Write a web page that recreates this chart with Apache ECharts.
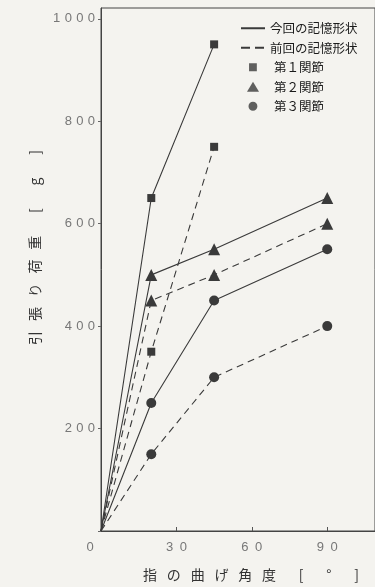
<!DOCTYPE html>
<html>
<head>
<meta charset="utf-8">
<script src="https://cdn.jsdelivr.net/npm/echarts@6/dist/echarts.min.js"></script>
<style>
html,body{margin:0;padding:0;background:#f4f3ef;}
#c{width:375px;height:587px;}
</style>
</head>
<body>
<div id="c"></div>
<script>
// ---- data ----
const anglesJ1 = [0, 20, 45];
const anglesJ23 = [0, 20, 45, 90];
const joint1Now = [0, 650, 950];
const joint1Prev = [0, 350, 750];
const joint2Now = [0, 500, 550, 650];
const joint2Prev = [0, 450, 500, 600];
const joint3Now = [0, 250, 450, 550];
const joint3Prev = [0, 150, 300, 400];
const xTicks = [0, 30, 60, 90];
const yTicks = [0, 200, 400, 600, 800, 1000];
const legendNow = '今回の記憶形状';
const legendPrev = '前回の記憶形状';
const jointNames = ['第１関節', '第２関節', '第３関節'];
const xName = '指の曲げ角度 [ ° ]';
const yName = '引張り荷重 [ g ]';

const ink = '#3a3a3a';
const symbols = ['rect', 'triangle', 'circle'];
const symSizes = [8, 12, 10];
const legendIcons = [
  'path://M0,0h0.1M1,1h7v7h-7zM9,9h0.1',
  'path://M6,0L12,10H0z',
  'path://M0,0h0.1M4.5,0.5a4,4 0 1,0 0.001,0zM9,9h0.1'
];

function pts(xs, ys) {
  return xs.map((x, i) => i === 0 ? {value: [x, ys[i]], symbol: 'none'} : [x, ys[i]]);
}
function spaced(s, sep) { return s.split('').join(sep); }

const series = [];
// legend-only series (no data)
series.push({name: legendNow, type: 'line', data: [], symbol: 'none', lineStyle: {color: ink, width: 1.3, type: 'solid'}, itemStyle: {color: ink}});
series.push({name: legendPrev, type: 'line', data: [], symbol: 'none', lineStyle: {color: ink, width: 1.3, type: [9, 5]}, itemStyle: {color: ink}});
jointNames.forEach((n, k) => {
  series.push({name: n, type: 'scatter', data: [], symbol: symbols[k], symbolSize: symSizes[k], itemStyle: {color: ink}});
});
const real = [
  [anglesJ1, joint1Now, 0, 'solid'], [anglesJ1, joint1Prev, 0, 'dash'],
  [anglesJ23, joint2Now, 1, 'solid'], [anglesJ23, joint2Prev, 1, 'dash'],
  [anglesJ23, joint3Now, 2, 'solid'], [anglesJ23, joint3Prev, 2, 'dash']
];
real.forEach(([xs, ys, k, t], i) => {
  series.push({
    name: 's' + i, type: 'line', data: pts(xs, ys),
    symbol: symbols[k], symbolSize: symSizes[k], showSymbol: true,
    lineStyle: {color: ink, width: 1.1, type: t === 'solid' ? 'solid' : [7, 5]},
    itemStyle: {color: ink}, z: 3, silent: true
  });
});

const hidden = {color: 'rgba(0,0,0,0)', borderColor: 'rgba(0,0,0,0)', borderWidth: 0};
const legendData = [
  {name: legendNow, itemStyle: hidden},
  {name: legendPrev, itemStyle: hidden}
].concat(jointNames.map((n, k) => ({name: n, icon: legendIcons[k], textStyle: {padding: [0, 0, 0, 4]}})));

const chart = echarts.init(document.getElementById('c'), null, {renderer: 'canvas'});
chart.setOption({
  backgroundColor: '#f4f3ef',
  animation: false,
  textStyle: {fontFamily: '"Liberation Sans", "Noto Sans CJK JP", sans-serif'},
  grid: {left: 101, right: -3, top: 8, bottom: 54, show: true, borderColor: '#444', borderWidth: 1, backgroundColor: 'transparent'},
  legend: {
    data: legendData,
    orient: 'vertical', left: 235, top: 17,
    itemWidth: 24, itemHeight: 10, itemGap: 7, symbolKeepAspect: true,
    textStyle: {fontSize: 12.5, color: '#1a1a1a', fontFamily: '"Noto Sans CJK JP", sans-serif'}
  },
  xAxis: {
    type: 'value', min: 0, max: 109,
    name: spaced(xName, '\u2002\u2009'), nameLocation: 'middle', nameGap: 37,
    nameTextStyle: {fontSize: 14, color: '#333', fontFamily: '"Noto Sans CJK JP", sans-serif', padding: [0, 0, 0, 26]},
    axisLine: {show: true, lineStyle: {color: '#444', width: 1}},
    axisTick: {show: true, inside: true, length: 4, customValues: xTicks, lineStyle: {color: '#555'}},
    axisLabel: {
      customValues: xTicks, margin: 10, fontSize: 13, color: '#777',
      formatter: v => v === 0 ? '{z|0}' : spaced(String(v), '\u2002'),
      rich: {z: {fontSize: 13, color: '#777', padding: [0, 22, 0, 0]}}
    },
    splitLine: {show: false}
  },
  yAxis: {
    type: 'value', min: 0, max: 1021,
    name: spaced(yName, '\u2002\u2009'), nameLocation: 'middle', nameGap: 55, nameRotate: 90,
    nameTextStyle: {fontSize: 14, color: '#333', fontFamily: '"Noto Sans CJK JP", sans-serif', padding: [0, 0, 0, 44]},
    axisLine: {show: true, lineStyle: {color: '#444', width: 1}},
    axisTick: {show: true, inside: false, length: 3, customValues: yTicks, lineStyle: {color: '#666'}},
    axisLabel: {
      customValues: yTicks, margin: 6, fontSize: 13, color: '#777',
      formatter: v => v === 0 ? '' : spaced(String(v), '\u2004')
    },
    splitLine: {show: false}
  },
  series: series
});
</script>
</body>
</html>
